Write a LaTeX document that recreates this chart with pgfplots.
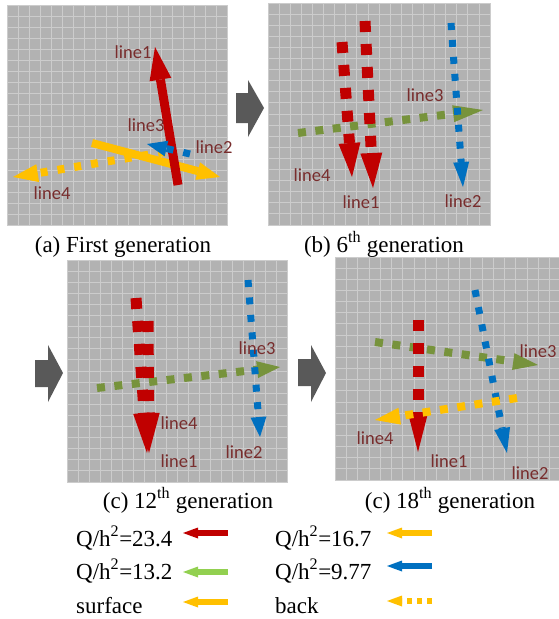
\documentclass[border=0pt]{standalone}
\usepackage{pgfplots}
\pgfplotsset{compat=1.18}
\usetikzlibrary{arrows.meta}
\usepackage{fontspec}
\setmainfont{Liberation Serif}
\newfontfamily\calfont{Carlito}
\definecolor{cred}{RGB}{192,0,0}
\definecolor{cyel}{RGB}{255,192,0}
\definecolor{cblue}{RGB}{0,112,192}
\definecolor{cgreen}{RGB}{119,147,60}
\definecolor{lgreen}{RGB}{146,208,80}
\definecolor{chev}{RGB}{89,89,89}
\definecolor{pgray}{RGB}{178,178,178}
\definecolor{pgrid}{RGB}{204,204,204}
\definecolor{lbl}{RGB}{120,45,45}
\pgfplotsset{panel/.style={scale only axis, anchor=north west,
  xmin=0,xmax=20,ymin=0,ymax=20, xtick={0,...,20}, ytick={0,...,20},
  xticklabels={}, yticklabels={}, major tick length=0pt,
  grid=major, major grid style={draw=pgrid, line width=0.8pt},
  axis line style={draw=pgrid}, axis background/.style={fill=pgray}}}
\tikzset{
  lbltxt/.style={font=\calfont\fontsize{18.5}{20}\selectfont, text=lbl, inner sep=0pt},
  captxt/.style={font=\fontsize{23}{26}\selectfont, anchor=base, inner sep=0pt},
  legtxt/.style={font=\fontsize{23}{26}\selectfont, anchor=base west, inner sep=0pt}}
\begin{document}
\begin{tikzpicture}
\path[use as bounding box] (0,0) rectangle (558pt,619pt);
% panels
\begin{axis}[panel, at={(7pt,614pt)}, width=220pt, height=220pt]
\addplot[draw=none] coordinates {(0,0)};
\end{axis}
\begin{axis}[panel, at={(268pt,616pt)}, width=222pt, height=222pt]
\addplot[draw=none] coordinates {(0,0)};
\end{axis}
\begin{axis}[panel, at={(67pt,359pt)}, width=220pt, height=222pt]
\addplot[draw=none] coordinates {(0,0)};
\end{axis}
\begin{axis}[panel, at={(335pt,362pt)}, width=226pt, height=223pt]
\addplot[draw=none] coordinates {(0,0)};
\end{axis}
% overlay in pixel coordinates
\begin{axis}[at={(0pt,0pt)}, anchor=south west, scale only axis, width=558pt, height=619pt,
  xmin=0, xmax=558, ymin=0, ymax=619, y dir=reverse, hide axis, clip=false]
% chevrons
\addplot[fill=chev, draw=none] coordinates {(236,93)(248,93)(248,80)(264,108)(248,137)(248,123)(236,123)} -- cycle;
\addplot[fill=chev, draw=none] coordinates {(35,360)(48,360)(48,345)(63,373)(48,402)(48,387)(35,387)} -- cycle;
\addplot[fill=chev, draw=none] coordinates {(298,359)(311,359)(311,345)(326,373)(311,402)(311,386)(298,386)} -- cycle;
% ---- panel (a)
\addplot[cyel, line width=8pt, dash pattern=on 7pt off 10pt, -{Triangle[length=25pt,width=18pt,line width=0pt]}] coordinates {(165,152)(110,161)(45,172)(13,177)};
\addplot[cyel, line width=8pt, -{Triangle[length=23pt,width=18pt,line width=0pt]}] coordinates {(92,143)(220,177)};
\addplot[cred, line width=9pt, -{Triangle[length=33pt,width=22pt,line width=0pt]}] coordinates {(178,185)(155,47)};
\addplot[cblue, line width=7pt, dash pattern=on 7pt off 10pt, -{Triangle[length=20pt,width=16pt,line width=0pt]}] coordinates {(190,154)(147,144)};
\node[lbltxt] at (axis cs:133,52) {line1};
\node[lbltxt] at (axis cs:146,125) {line3};
\node[lbltxt] at (axis cs:214,147) {line2};
\node[lbltxt] at (axis cs:52,193) {line4};
% ---- panel (b)
\addplot[cgreen, line width=8pt, dash pattern=on 8pt off 9.5pt, -{Triangle[length=30pt,width=17pt,line width=0pt]}] coordinates {(298,133)(483,110)};
\addplot[cred, line width=11pt, dash pattern=on 11pt off 12pt, -{Triangle[length=34pt,width=22pt,line width=0pt]}] coordinates {(342,42)(352,177)};
\addplot[cred, line width=11pt, dash pattern=on 11pt off 12pt, -{Triangle[length=35pt,width=22pt,line width=0pt]}] coordinates {(365,21)(373,188)};
\addplot[cblue, line width=7pt, dash pattern=on 7pt off 10pt, -{Triangle[length=25pt,width=16pt,line width=0pt]}] coordinates {(451,23)(463,187)};
\node[lbltxt] at (axis cs:425,95) {line3};
\node[lbltxt] at (axis cs:312,175) {line4};
\node[lbltxt] at (axis cs:361,202) {line1};
\node[lbltxt] at (axis cs:463,201) {line2};
% ---- panel (c)
\addplot[cgreen, line width=8pt, dash pattern=on 8pt off 9.5pt, -{Triangle[length=23pt,width=17pt,line width=0pt]}] coordinates {(97,388)(280,367)};
\addplot[cred, line width=11pt, dash pattern=on 11pt off 12pt, -{Triangle[length=40pt,width=22pt,line width=0pt]}] coordinates {(136,298)(147,453)};
\addplot[cred, line width=11pt, dash pattern=on 11pt off 12pt, -{Triangle[length=40pt,width=22pt,line width=0pt]}] coordinates {(148,321)(149,453)};
\addplot[cblue, line width=7pt, dash pattern=on 7pt off 10.5pt, -{Triangle[length=20pt,width=16pt,line width=0pt]}] coordinates {(248,280)(260,437)};
\node[lbltxt] at (axis cs:257,348) {line3};
\node[lbltxt] at (axis cs:179,423) {line4};
\node[lbltxt] at (axis cs:179,461) {line1};
\node[lbltxt] at (axis cs:244,452) {line2};
% ---- panel (d)
\addplot[cgreen, line width=8pt, dash pattern=on 8pt off 9.5pt, -{Triangle[length=25pt,width=17pt,line width=0pt]}] coordinates {(375,342)(538,365)};
\addplot[cred, line width=11pt, dash pattern=on 11pt off 12pt, -{Triangle[length=39pt,width=20pt,line width=0pt]}] coordinates {(418,320)(418,452)};
\addplot[cblue, line width=7pt, dash pattern=on 7pt off 10.5pt, -{Triangle[length=25pt,width=16pt,line width=0pt]}] coordinates {(475,290)(507,453)};
\addplot[cyel, line width=8pt, dash pattern=on 8pt off 9.5pt, -{Triangle[length=25pt,width=17pt,line width=0pt]}] coordinates {(517,398)(375,420)};
\node[lbltxt] at (axis cs:538,351) {line3};
\node[lbltxt] at (axis cs:375,438) {line4};
\node[lbltxt] at (axis cs:449,461) {line1};
\node[lbltxt] at (axis cs:530,473) {line2};
% captions
\node[captxt] at (axis cs:123,252) {(a) First generation};
\node[captxt] at (axis cs:384,252) {(b) 6\textsuperscript{th} generation};
\node[captxt] at (axis cs:188,508) {(c) 12\textsuperscript{th} generation};
\node[captxt] at (axis cs:450,508) {(c) 18\textsuperscript{th} generation};
% legend
\node[legtxt] at (axis cs:76,546) {Q/h\textsuperscript{2}=23.4};
\node[legtxt] at (axis cs:76,579) {Q/h\textsuperscript{2}=13.2};
\node[legtxt] at (axis cs:76,613) {surface};
\node[legtxt] at (axis cs:275,546) {Q/h\textsuperscript{2}=16.7};
\node[legtxt] at (axis cs:275,579) {Q/h\textsuperscript{2}=9.77};
\node[legtxt] at (axis cs:275,613) {back};
\addplot[cred, line width=6pt, -{Triangle[length=15pt,width=11pt,line width=0pt]}] coordinates {(228,533)(183,533)};
\addplot[lgreen, line width=6pt, -{Triangle[length=15pt,width=11pt,line width=0pt]}] coordinates {(228,572)(183,572)};
\addplot[cyel, line width=6pt, -{Triangle[length=15pt,width=11pt,line width=0pt]}] coordinates {(228,602)(183,602)};
\addplot[cyel, line width=6pt, -{Triangle[length=15pt,width=11pt,line width=0pt]}] coordinates {(432,533)(387,533)};
\addplot[cblue, line width=6pt, -{Triangle[length=15pt,width=11pt,line width=0pt]}] coordinates {(432,566)(387,566)};
\addplot[cyel, line width=6pt, dash pattern=on 5pt off 5pt, -{Triangle[length=15pt,width=11pt,line width=0pt]}] coordinates {(432,601)(387,601)};
\end{axis}
\end{tikzpicture}
\end{document}
